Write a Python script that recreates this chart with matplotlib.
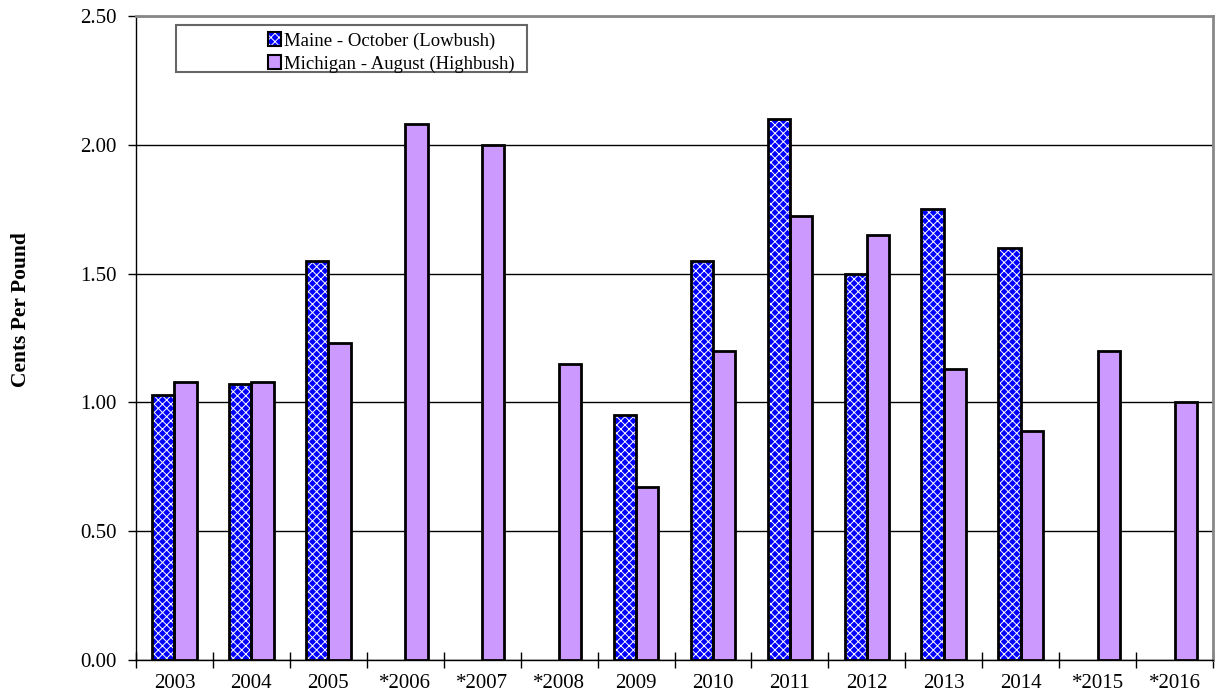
import matplotlib.pyplot as plt
import matplotlib.patches as mpatches
import numpy as np

plt.rcParams['font.family'] = ['Liberation Serif', 'DejaVu Serif']
plt.rcParams['hatch.linewidth'] = 0.7

# Data
years = ['2003', '2004', '2005', '*2006', '*2007', '*2008', '2009', '2010',
         '2011', '2012', '2013', '2014', '*2015', '*2016']
maine = [1.03, 1.07, 1.55, np.nan, np.nan, np.nan, 0.95, 1.55,
         2.10, 1.50, 1.75, 1.60, np.nan, np.nan]
michigan = [1.08, 1.08, 1.23, 2.08, 2.00, 1.15, 0.67, 1.20,
            1.725, 1.65, 1.13, 0.89, 1.20, 1.00]

blue = '#0000FF'
purple = '#CC99FF'

fig = plt.figure(figsize=(12.16, 6.98), dpi=100)
ax = fig.add_axes([136 / 1216, 38 / 698, 1077 / 1216, 644 / 698])

x = np.arange(len(years))
w = 0.29

# Maine bars: blue with white hatch, then a black outline on top
ax.bar(x - w / 2, maine, w, color=blue, edgecolor='white', hatch='xxxx', linewidth=0, zorder=3)
ax.bar(x - w / 2, maine, w, fill=False, edgecolor='black', linewidth=2, zorder=4)
# Michigan bars
ax.bar(x + w / 2, michigan, w, color=purple, edgecolor='black', linewidth=2, zorder=3)

ax.set_xlim(-0.5, len(years) - 0.5)
ax.set_ylim(0, 2.5)
ax.set_yticks(np.arange(0, 2.51, 0.5))
ax.set_yticklabels(['%.2f' % v for v in np.arange(0, 2.51, 0.5)], fontsize=15)
ax.set_xticks(x)
ax.set_xticklabels(years, fontsize=15)
ax.tick_params(axis='x', length=0, pad=10)
ax.set_xticks(np.arange(-0.5, len(years)), minor=True)
ax.tick_params(axis='x', which='minor', direction='inout', length=12, width=1)
ax.tick_params(axis='y', direction='out', length=6, width=1, pad=8)

ax.yaxis.grid(True, color='black', linewidth=1)
ax.set_axisbelow(True)

for s in ['top', 'right']:
    ax.spines[s].set_color('#888888')
    ax.spines[s].set_linewidth(2)
for s in ['left', 'bottom']:
    ax.spines[s].set_color('black')
    ax.spines[s].set_linewidth(1)

fig.text(21 / 1216, 1 - 310 / 698, 'Cents Per Pound', rotation=90, fontsize=15.5,
         fontweight='bold', ha='center', va='center')

# Legend
h_maine = (mpatches.Patch(facecolor=blue, edgecolor='white', hatch='xxxx', linewidth=0),
           mpatches.Patch(fill=False, edgecolor='black', linewidth=1.5))
h_mich = mpatches.Patch(facecolor=purple, edgecolor='black', linewidth=1.5)
frame = mpatches.Rectangle((0.037, 0.913), 0.326, 0.073, transform=ax.transAxes,
                           facecolor='white', edgecolor='#666666', linewidth=1.5, zorder=5)
ax.add_patch(frame)
leg = ax.legend([h_maine, h_mich],
                ['Maine - October (Lowbush)', 'Michigan - August (Highbush)'],
                loc='upper left', bbox_to_anchor=(0.11, 0.995), frameon=False,
                fontsize=13.5, handlelength=0.7, handleheight=0.7, handletextpad=0.2,
                labelspacing=0.3, borderpad=0.2)
leg.set_zorder(6)

fig.savefig('out.png', dpi=100)
